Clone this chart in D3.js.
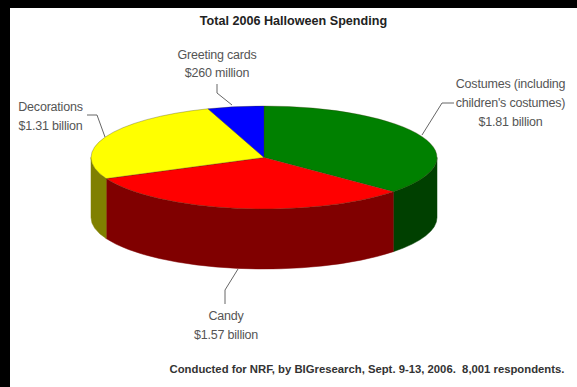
<!DOCTYPE html>
<html>
<head>
<meta charset="utf-8">
<script src="https://cdnjs.cloudflare.com/ajax/libs/d3/7.8.5/d3.min.js"></script>
<style>
html, body { margin: 0; padding: 0; background: #000; }
svg { display: block; }
text { font-family: "Liberation Sans", Arial, sans-serif; }
</style>
</head>
<body>
<svg id="chart" width="577" height="387"></svg>
<script>
// Spending by category, in billions of dollars
const categories = ["Costumes", "Candy", "Decorations", "Greeting cards"];
const spending = [1.81, 1.57, 1.31, 0.26];
const topColors = ["#008000", "#ff0000", "#ffff00", "#0000ff"];
const sideColors = ["#004000", "#800000", "#808000", "#000080"];

const titleText = "Total 2006 Halloween Spending";
const sourceText = "Conducted for NRF, by BIGresearch, Sept. 9-13, 2006.  8,001 respondents.";
const labelLines = [
  ["Costumes (including", "children's costumes)", "$1.81 billion"],
  ["Candy", "$1.57 billion"],
  ["Decorations", "$1.31 billion"],
  ["Greeting cards", "$260 million"]
];
const labelAnchors = [
  { x: 510.5, y: 88 },
  { x: 226, y: 320 },
  { x: 50.5, y: 111 },
  { x: 217, y: 58.5 }
];
const leaderPaths = [
  [[454, 103], [442, 103], [422, 135]],
  [[225, 304], [225, 290], [238, 269]],
  [[87, 115], [97, 115], [105, 137]],
  [[217, 84], [217, 93], [232, 105]]
];

const svg = d3.select("#chart");
svg.append("rect").attr("x", 10).attr("y", 8).attr("width", 567).attr("height", 379).attr("fill", "#fff");

const cx = 264, cy = 157.5, rx = 173, ry = 51.5, depth = 60;
const px = a => cx + rx * Math.sin(a);
const py = a => cy - ry * Math.cos(a);
const slices = d3.pie().sort(null)(spending);

// Wall of the disc: only the part of the rim that faces the viewer
const wall = svg.append("g");
slices.forEach((s, i) => {
  const a0 = Math.max(s.startAngle, Math.PI / 2);
  const a1 = Math.min(s.endAngle, Math.PI * 1.5);
  if (a1 <= a0) return;
  const large = a1 - a0 > Math.PI ? 1 : 0;
  wall.append("path")
    .attr("fill", sideColors[i])
    .attr("stroke", sideColors[i])
    .attr("stroke-width", 0.5)
    .attr("d", `M${px(a0)},${py(a0)} A${rx},${ry} 0 ${large} 1 ${px(a1)},${py(a1)}` +
      ` L${px(a1)},${py(a1) + depth} A${rx},${ry} 0 ${large} 0 ${px(a0)},${py(a0) + depth} Z`);
});

// Top face of the disc
const face = svg.append("g");
slices.forEach((s, i) => {
  const large = s.endAngle - s.startAngle > Math.PI ? 1 : 0;
  face.append("path")
    .attr("fill", topColors[i])
    .attr("stroke", "#3a3a10")
    .attr("stroke-opacity", 0.45)
    .attr("stroke-width", 0.7)
    .attr("d", `M${cx},${cy} L${px(s.startAngle)},${py(s.startAngle)}` +
      ` A${rx},${ry} 0 ${large} 1 ${px(s.endAngle)},${py(s.endAngle)} Z`);
});

// Leader lines from labels to slices
const leader = d3.line().curve(d3.curveLinear);
svg.append("g").selectAll("path").data(leaderPaths).join("path")
  .attr("d", leader)
  .attr("fill", "none")
  .attr("stroke", "#666")
  .attr("stroke-width", 1);

// Category labels
labelLines.forEach((lines, i) => {
  const t = svg.append("text")
    .attr("text-anchor", "middle")
    .attr("fill", "#555")
    .attr("font-size", 12.5)
    .attr("letter-spacing", -0.2);
  lines.forEach((line, j) => {
    t.append("tspan").attr("x", labelAnchors[i].x).attr("y", labelAnchors[i].y + j * 18.8).text(line);
  });
});

svg.append("text").attr("x", 293.5).attr("y", 25).attr("text-anchor", "middle")
  .attr("font-size", 12.6).attr("font-weight", "bold").attr("fill", "#222").text(titleText);
svg.append("text").attr("x", 367).attr("y", 373).attr("text-anchor", "middle")
  .attr("font-size", 11.3).attr("font-weight", "bold").attr("fill", "#333")
  .attr("xml:space", "preserve").text(sourceText);
</script>
</body>
</html>
